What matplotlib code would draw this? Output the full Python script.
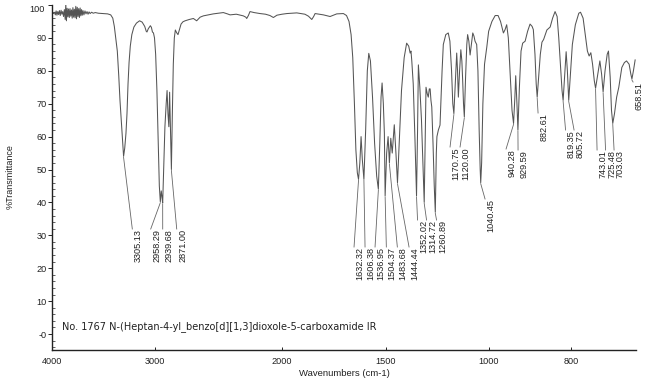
import numpy as np
import matplotlib
matplotlib.use("Agg")
import matplotlib.pyplot as plt
from matplotlib.ticker import FixedLocator, MultipleLocator, NullLocator, FixedFormatter

# ---------------- data ----------------
wavenumber = [
    4000, 3995, 3985, 3975, 3968, 3960, 3952, 3944, 3936, 3928, 3920, 3912, 3904, 3896, 3888,
    3880, 3872, 3866, 3860, 3853, 3846, 3839, 3832, 3825, 3818, 3811, 3804, 3797, 3790, 3783,
    3776, 3769, 3762, 3755, 3748, 3741, 3734, 3727, 3720, 3713, 3706, 3699, 3690, 3680, 3670,
    3660, 3650, 3640, 3630, 3615, 3600, 3580, 3550, 3500, 3460, 3430, 3410, 3395, 3380, 3366,
    3352, 3340, 3326, 3314, 3305.13, 3294, 3282, 3272, 3262, 3252, 3240, 3225, 3205, 3180, 3150,
    3125, 3100, 3085, 3078, 3065, 3045, 3035, 3025, 3015, 3005, 2995, 2985, 2975, 2966, 2958.29,
    2951, 2946, 2939.68, 2932, 2922, 2912, 2905, 2898, 2891, 2885, 2879, 2871.0, 2864, 2856, 2848,
    2840, 2830, 2819, 2808, 2795, 2780, 2763, 2730, 2698, 2672, 2645, 2619, 2580, 2541, 2500,
    2462, 2430, 2409, 2360, 2305, 2285, 2278, 2265, 2252, 2220, 2173, 2130, 2095, 2068, 2040,
    2000, 1977, 1929, 1890, 1873, 1857, 1848, 1841, 1801, 1769, 1737, 1705, 1690, 1678, 1668,
    1660, 1652, 1645, 1638, 1632.32, 1626, 1620, 1614, 1606.38, 1598, 1590, 1583, 1575, 1565, 1555,
    1545, 1536.95, 1530, 1524, 1519, 1513, 1508, 1504.37, 1497, 1490, 1483.68, 1477, 1470, 1460, 1452,
    1444.44, 1436, 1425, 1412, 1400, 1390, 1383, 1379, 1375, 1368, 1360, 1352.02, 1347, 1343, 1336,
    1328, 1320, 1314.72, 1310, 1306, 1300, 1295, 1290, 1286, 1282, 1278, 1272, 1266, 1260.89, 1256,
    1253, 1246, 1238, 1228, 1222, 1210, 1198, 1190, 1182, 1176, 1170.75, 1165, 1157, 1153, 1149,
    1143, 1137, 1132, 1128, 1124, 1120.0, 1114, 1108, 1104, 1098, 1092, 1086, 1079, 1073, 1068,
    1060, 1054, 1048, 1043, 1040.45, 1036, 1030, 1022, 1011, 1002, 993, 985, 978, 972, 965,
    961, 957, 953, 949, 944, 940.28, 937, 935, 932, 929.59, 926, 922, 918, 912, 906,
    900, 895, 892, 888, 885, 882.61, 879, 875, 871, 867, 859, 851, 845, 839, 834,
    830, 826, 822, 819.35, 816, 812, 809, 805.72, 801, 797, 790, 782, 778, 772, 766,
    762, 758, 754, 750, 746, 743.01, 739, 733, 729, 725.48, 721, 716, 713, 709, 706,
    703.03, 699, 694, 689, 682, 676, 671, 665, 661, 658.51, 655, 651,
]
transmittance = [
    97.5, 97.6, 97.4, 97.8, 97.0, 98.2, 96.9, 98.0, 97.1, 98.3, 96.8, 98.4, 97.2, 98.0, 96.5,
    98.6, 95.6, 100.4, 95.2, 99.0, 96.4, 98.8, 96.2, 98.9, 96.6, 98.5, 96.0, 99.2, 96.3, 98.7,
    96.1, 99.6, 95.8, 99.3, 96.5, 98.9, 96.2, 99.1, 96.7, 98.6, 96.9, 98.3, 97.0, 98.2, 97.3,
    98.0, 97.2, 97.9, 97.4, 97.8, 97.5, 97.7, 97.5, 97.4, 97.3, 97.0, 96.0, 93.5, 89.5, 86.0,
    78.5, 71.0, 64.0, 58.5, 54.0, 56.5, 61.0, 67.0, 76.0, 82.5, 87.5, 91.0, 93.3, 94.5, 95.2,
    94.8, 93.5, 92.0, 91.8, 92.8, 93.7, 93.2, 91.8, 91.5, 90.0, 85.0, 74.0, 58.0, 45.0, 40.2,
    43.5, 42.0, 39.8, 50.0, 63.0, 70.0, 74.0, 67.0, 63.0, 73.5, 64.0, 50.0, 66.0, 82.0, 90.0,
    92.4, 91.6, 91.0, 92.5, 94.2, 94.9, 95.2, 95.6, 95.9, 95.2, 96.3, 96.7, 97.0, 97.3, 97.5,
    97.7, 97.3, 97.0, 97.2, 96.7, 96.3, 95.9, 96.8, 98.0, 97.7, 97.4, 97.2, 96.8, 96.2, 96.9,
    97.2, 97.4, 97.6, 97.2, 96.6, 95.6, 96.5, 97.4, 97.0, 96.5, 97.3, 97.4, 96.8, 95.0, 91.0,
    84.0, 70.0, 56.0, 49.0, 47.0, 52.0, 60.0, 53.0, 47.0, 62.0, 80.0, 85.3, 83.0, 72.0, 58.0,
    48.0, 44.0, 58.0, 72.0, 76.3, 70.0, 61.0, 42.0, 55.0, 60.0, 52.0, 59.5, 55.0, 63.6, 55.0,
    46.0, 58.0, 74.0, 84.0, 88.4, 87.5, 85.4, 86.0, 83.0, 76.0, 60.0, 42.0, 62.0, 81.8, 75.0,
    65.0, 50.0, 40.0, 58.0, 75.0, 73.0, 72.0, 74.5, 74.5, 71.0, 69.0, 58.0, 45.0, 37.0, 55.0,
    60.0, 62.0, 63.5, 80.0, 88.0, 91.0, 91.5, 89.0, 80.0, 70.0, 67.0, 75.0, 85.4, 80.0, 72.0,
    80.0, 86.4, 83.0, 77.0, 70.0, 66.0, 78.0, 88.0, 91.0, 89.0, 84.8, 88.0, 91.5, 90.5, 89.0,
    88.0, 80.0, 62.0, 50.0, 46.0, 52.0, 70.0, 82.0, 87.2, 92.0, 95.0, 96.8, 96.8, 95.0, 91.5,
    92.5, 94.0, 90.0, 80.0, 68.0, 64.0, 72.0, 78.5, 70.0, 62.0, 75.0, 86.0, 88.4, 89.0, 92.0,
    94.2, 93.5, 92.5, 85.0, 76.0, 72.0, 78.0, 85.0, 88.7, 89.5, 92.4, 93.3, 96.0, 98.0, 96.5,
    90.0, 82.0, 74.0, 71.0, 78.0, 85.8, 80.0, 71.0, 80.0, 88.0, 94.0, 97.5, 97.8, 96.0, 90.0,
    86.0, 84.5, 85.5, 82.0, 77.0, 74.7, 78.0, 83.0, 79.0, 73.6, 80.0, 85.0, 86.0, 78.0, 68.0,
    64.0, 67.0, 72.0, 75.0, 81.0, 82.5, 83.0, 82.0, 79.0, 77.5, 80.0, 83.3,
]

peak_labels = ["3305.13", "2958.29", "2939.68", "2871.00",
               "1632.32", "1606.38", "1536.95", "1504.37", "1483.68", "1444.44",
               "1352.02", "1314.72", "1260.89", "1170.75", "1120.00", "1040.45",
               "940.28", "929.59", "882.61", "819.35", "805.72",
               "743.01", "725.48", "703.03", "658.51"]
peak_wn = [float(s) for s in peak_labels]

x_ticks = [4000, 3000, 2000, 1500, 1000, 800]
y_ticks = [0, 10, 20, 30, 40, 50, 60, 70, 80, 90, 100]
y_tick_labels = ["-0", "10", "20", "30", "40", "50", "60", "70", "80", "90", ""]

title_text = "No. 1767 N-(Heptan-4-yl_benzo[d][1,3]dioxole-5-carboxamide IR"

# ---------------- layout ----------------
W, H = 650, 379
# piecewise instrument-style wavenumber axis: wavenumber -> pixel column
scale_wn = [550, 650, 800, 1000, 1500, 2000, 3000, 4000, 4200]
scale_px = [678.5, 635.5, 571, 489, 386, 282, 155, 52, 31.4]


def wn_to_px(w):
    return np.interp(w, scale_wn, scale_px)


def px_to_wn(p):
    return np.interp(p, scale_px[::-1], scale_wn[::-1])


# increasing function for the axis scale (axis later shown high -> low)
def fwd(w):
    return -wn_to_px(w)


def inv(q):
    return px_to_wn(-np.asarray(q))


def ypx_to_T(y):
    return 100 - (y - 5) / 3.29


# label anchor (pixel column of line end, pixel row of text top)
label_px = [132.3, 150.7, 162.7, 176.7,
            354, 365, 375, 386.3, 397.3, 409,
            417.5, 426.5, 436.5, 450, 460, 485,
            506, 518, 538, 565.5, 574,
            597, 605.5, 614, 633]
label_py = [229, 229, 229, 229,
            247, 247, 247, 247, 247, 247,
            220, 220, 220, 147, 147, 199,
            149, 150, 113, 130, 130,
            150, 150, 150, 82]

ink = "#222222"
line_col = "#555555"
fnt = "Liberation Sans"

fig = plt.figure(figsize=(W / 100, H / 100), dpi=100)
ax = fig.add_axes([52 / W, (H - 350) / H, (636 - 52) / W, 345 / H])
ax.set_xscale("function", functions=(fwd, inv))
ax.set_xlim(4000, 649)
ax.set_ylim(-4.86, 100)

ax.plot(wavenumber, transmittance, color=line_col, lw=0.75, solid_joinstyle="round")

# peak labels
for lab, pw, lx, ly in zip(peak_labels, peak_wn, label_px, label_py):
    tmin = float(np.interp(pw, wavenumber[::-1], transmittance[::-1]))
    lw_ = float(px_to_wn(lx))
    lt = ypx_to_T(ly)
    ax.plot([pw, lw_], [tmin - 0.3, lt], color="#666666", lw=0.6)
    tx = float(px_to_wn(lx + 1.5))
    ax.text(tx, lt, lab, rotation=90, ha="left", va="top", fontsize=6.6,
            family=fnt, color=ink)

# axes styling
for s in ("top", "right"):
    ax.spines[s].set_visible(False)
for s in ("left", "bottom"):
    ax.spines[s].set_color(ink)
    ax.spines[s].set_linewidth(1.0)

ax.xaxis.set_major_locator(FixedLocator(x_ticks))
ax.xaxis.set_major_formatter(FixedFormatter([str(v) for v in x_ticks]))
ax.xaxis.set_minor_locator(NullLocator())
ax.yaxis.set_major_locator(FixedLocator(y_ticks))
ax.yaxis.set_major_formatter(FixedFormatter(y_tick_labels))
ax.yaxis.set_minor_locator(MultipleLocator(2))

ax.tick_params(axis="x", which="major", direction="in", length=2.5, width=0.7,
               colors=ink, labelsize=6.6, pad=5)
ax.tick_params(axis="y", which="major", direction="out", length=3, width=0.7,
               colors=ink, labelsize=6.6, pad=1)
ax.tick_params(axis="y", which="minor", direction="in", length=2, width=0.5, colors=ink)
for t in ax.get_xticklabels() + ax.get_yticklabels():
    t.set_family(fnt)

# "100" label sits just below the top end of the axis
ax.text(-0.012, 1.0, "100", transform=ax.transAxes, ha="right", va="top",
        fontsize=6.6, family=fnt, color=ink)

fig.text(344 / W, 1 - 373 / H, "Wavenumbers (cm-1)", ha="center", va="center",
         fontsize=6.8, family=fnt, color=ink)
fig.text(10 / W, 1 - 177 / H, "%Transmittance", ha="center", va="center",
         rotation=90, fontsize=6.5, family=fnt, color=ink)

tt = fig.text(62.5 / W, 1 - 327 / H, title_text, ha="left", va="center",
              fontsize=8, family="DejaVu Sans", color=ink)
fig.canvas.draw()
wpx = tt.get_window_extent().width
tt.set_fontsize(8 * 315 / wpx)

fig.savefig("out.png", dpi=100, facecolor="white")
